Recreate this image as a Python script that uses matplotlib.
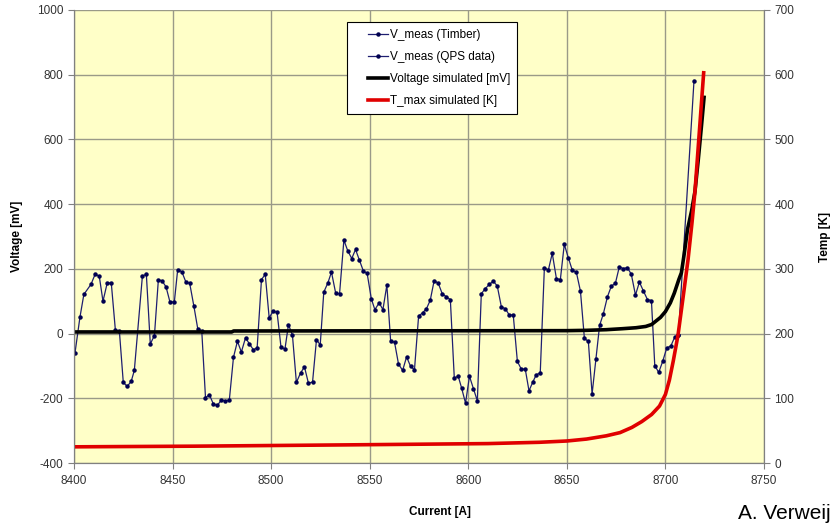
import matplotlib
matplotlib.use('Agg')
import matplotlib.pyplot as plt
from matplotlib.lines import Line2D
from matplotlib.legend_handler import HandlerLine2D

plt.rcParams['font.family'] = ['Liberation Sans', 'DejaVu Sans']
plt.rcParams['axes.unicode_minus'] = False

# measured voltage, Timber logging
current_timber = [8400.5, 8403, 8405, 8408.6, 8410.7, 8412.8, 8414.7, 8416.8, 8418.9, 8421,
                  8423, 8425, 8427, 8429, 8430.6, 8434.7, 8436.7, 8438.7, 8440.8, 8442.8,
                  8444.8, 8446.7, 8448.7, 8450.9, 8452.6, 8454.7, 8456.7, 8458.7, 8460.8, 8462.8,
                  8464.8, 8466.7, 8468.7, 8470.7, 8472.7, 8474.8, 8476.8, 8478.8, 8480.9, 8482.9,
                  8484.9, 8487, 8489, 8491, 8492.9, 8495.1, 8497, 8499, 8501, 8503,
                  8505, 8507, 8508.8, 8510.8, 8512.8, 8514.9, 8516.9, 8518.9, 8521, 8523,
                  8524.9, 8526.7, 8528.8, 8530.6, 8532.7, 8534.7, 8536.9, 8538.9, 8540.9, 8542.8,
                  8544.8, 8546.8, 8548.7, 8550.8, 8552.6, 8554.8, 8556.7, 8558.7, 8560.6, 8562.6,
                  8564.6, 8566.7, 8568.7, 8570.7, 8572.7, 8574.8, 8576.8, 8578.8, 8580.7, 8582.7,
                  8584.8, 8586.8, 8588.8, 8590.9, 8592.9, 8594.9, 8596.6, 8598.6, 8600.6, 8602.6,
                  8604.6, 8606.6, 8608.6, 8610.7, 8612.7, 8614.7, 8616.8, 8618.8, 8620.8, 8622.8,
                  8624.9, 8626.9, 8628.9, 8630.8, 8632.7, 8634.5, 8636.5, 8638.6, 8640.6, 8642.6,
                  8644.7, 8646.7, 8648.7, 8650.7, 8652.8, 8654.8, 8656.9, 8658.9, 8660.9, 8662.8,
                  8664.7, 8666.6, 8668.5, 8670.6, 8672.6, 8674.6, 8676.6, 8678.7, 8680.7, 8682.7,
                  8684.8, 8686.8, 8688.8, 8690.9, 8692.9, 8694.6, 8696.6, 8698.6, 8700.7, 8702.7,
                  8704.7, 8706.6]
volt_timber = [-60, 50, 121, 152, 183, 178, 100, 155, 157, 10,
               9, -151, -163, -148, -114, 178, 183, -32, -6, 167,
               162, 144, 97, 98, 198, 191, 160, 155, 85, 14,
               9, -198, -189, -218, -222, -205, -208, -205, -73, -24,
               -57, -13, -32, -50, -44, 167, 183, 49, 69, 66,
               -42, -48, 28, -5, -151, -122, -103, -153, -150, -19,
               -35, 128, 157, 190, 126, 123, 289, 255, 232, 260,
               226, 193, 186, 108, 74, 95, 74, 150, -22, -27,
               -94, -114, -72, -101, -112, 54, 64, 77, 103, 164,
               155, 123, 114, 105, -137, -132, -168, -215, -132, -170,
               -208, 123, 139, 152, 162, 147, 82, 77, 57, 58,
               -86, -110, -110, -177, -150, -127, -122, 204, 196, 248,
               170, 167, 276, 235, 195, 190, 131, -15, -24, -187,
               -80, 25, 61, 114, 147, 155, 206, 201, 204, 183,
               119, 159, 132, 105, 102, -99, -120, -86, -44, -39,
               -11, -3]

# measured voltage, QPS data (quench)
current_qps = [8706.6, 8714.5]
volt_qps = [-3, 782]

# simulated voltage [mV]
current_sim_v = [8400, 8480, 8481, 8650, 8660, 8670, 8678, 8685, 8690, 8693,
                 8697.5, 8700, 8702.5, 8704.5, 8706.8, 8708.1, 8709.5, 8711.2, 8713.3, 8715,
                 8716.7, 8718.3, 8719.6]
volt_sim = [5, 5, 8, 9, 10, 12, 15, 18, 22, 28,
            50, 68, 95, 125, 167, 188, 245, 322, 380, 440,
            540, 643, 730]

# simulated max temperature [K]
current_sim_t = [8400, 8461, 8538, 8610, 8636, 8650, 8660, 8670, 8677, 8683,
                 8688, 8693, 8697, 8700, 8702, 8704, 8706.4, 8709, 8711.5, 8713.5,
                 8715, 8717.4, 8719.4]
temp_sim = [25, 26, 28, 30, 32, 34, 37, 42, 47, 55,
            64, 75, 88, 106, 128, 158, 198, 257, 315, 372,
            420, 520, 603]

fig = plt.figure(figsize=(8.34, 5.29), dpi=100)
ax = fig.add_axes([74 / 834, 66 / 529, 690 / 834, 453 / 529])
ax.set_facecolor('#FFFFC8')

navy = '#1E1E70'
l1, = ax.plot(current_timber, volt_timber, color=navy, lw=0.9, marker='o', ms=2.2,
              mfc='#000050', mec='#000050', label='V_meas (Timber)')
l2, = ax.plot(current_qps, volt_qps, color=navy, lw=0.9, marker='o', ms=2.2,
              mfc='#000050', mec='#000050', label='V_meas (QPS data)')
l3, = ax.plot(current_sim_v, volt_sim, color='black', lw=2.6, label='Voltage simulated [mV]')

ax.set_xlim(8400, 8750)
ax.set_ylim(-400, 1000)
ax.set_xticks(range(8400, 8751, 50))
ax.set_yticks(range(-400, 1001, 200))
ax.grid(True, color='#9A9A88', lw=1)
ax.set_axisbelow(True)

ax2 = ax.twinx()
l4, = ax2.plot(current_sim_t, temp_sim, color='#E00000', lw=2.6, label='T_max simulated [K]')
ax2.set_ylim(0, 700)
ax2.set_yticks(range(0, 701, 100))

for a in (ax, ax2):
    for s in a.spines.values():
        s.set_color('#808080')
    a.spines['top'].set_visible(False)
    a.tick_params(labelsize=8.5, colors='#333333', length=4, color='#808080')
ax.tick_params(axis='x', pad=5)

ax.set_ylabel('Voltage [mV]', fontsize=8.5, fontweight='bold')
ax.yaxis.set_label_coords(-0.074, 0.5)
ax.set_xlabel('Current [A]', fontsize=8.5, fontweight='bold')
ax.xaxis.set_label_coords(0.53, -0.095)
ax2.set_ylabel('Temp [K]', fontsize=8.5, fontweight='bold')
ax2.yaxis.set_label_coords(1.079, 0.5)

leg = ax2.legend(handles=[l1, l2, l3, l4], loc='upper left',
                 bbox_to_anchor=((347 - 74) / 690, (463 - 22) / 453),
                 fontsize=8.5, frameon=True, fancybox=False, framealpha=1,
                 edgecolor='black', handlelength=2.9, handletextpad=0.1,
                 borderpad=0.6, labelspacing=0.85, borderaxespad=0,
                 handler_map={Line2D: HandlerLine2D(xpad=1.2)})
leg.get_frame().set_linewidth(0.8)

fig.text(0.996, 0.012, 'A. Verweij', fontsize=15, ha='right', va='bottom')

fig.savefig('out.png', dpi=100)
